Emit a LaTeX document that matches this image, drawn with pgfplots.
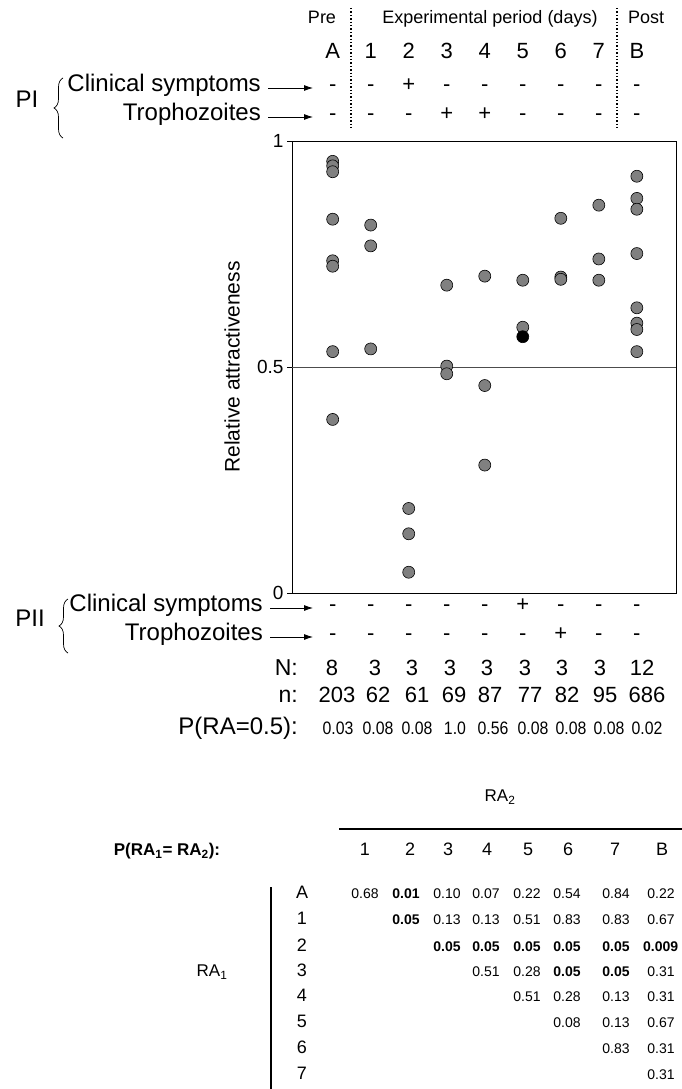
\documentclass[border=0pt]{standalone}
\usepackage{pgfplots}
\pgfplotsset{compat=1.18}
\usepackage{fontspec}
\setmainfont{Liberation Sans}
\newfontfamily\narrowfont[FakeStretch=0.88]{Liberation Sans}
\usetikzlibrary{arrows.meta,decorations.pathreplacing}
\newcommand\fs[1]{\fontsize{#1}{#1}\selectfont}
\definecolor{dotgray}{RGB}{128,128,128}
\tikzset{lab/.style={inner sep=0pt, text height=0.716em, text depth=0pt, anchor=center}}
\begin{document}
\begin{tikzpicture}
\useasboundingbox (0,0) rectangle (682pt,-1089pt);
\begin{axis}[at={(292pt,-593pt)}, anchor=south west, scale only axis,
  width=384pt, height=452pt, xmin=-1.07, xmax=9.03, ymin=0, ymax=1,
  xtick=\empty, ytick={0,0.5,1}, yticklabels={0,0.5,1}, ytick pos=left,
  tick align=outside, major tick length=5pt,
  axis line style={line width=0.9pt},
  tick style={line width=0.9pt, black},
  yticklabel style={font=\fs{19}},
  ylabel={Relative attractiveness},
  ylabel style={font=\fs{21}, at={(axis description cs:-0.156,0.5)}, anchor=center},
  clip=false]
\addplot[no marks, draw=black!70, line width=0.8pt] coordinates {(-1.07,0.5) (9.03,0.5)};
\addplot[only marks, mark=*, mark size=6pt, mark options={fill=dotgray, draw=black, line width=0.6pt}] table {
x y
0 0.955
0 0.945
0 0.932
0 0.827
0 0.735
0 0.723
0 0.534
0 0.384
1 0.814
1 0.768
1 0.540
2 0.187
2 0.131
2 0.046
3 0.681
3 0.502
3 0.485
4 0.701
4 0.459
4 0.283
5 0.692
5 0.588
6 0.829
6 0.699
6 0.694
7 0.858
7 0.739
7 0.692
8 0.922
8 0.873
8 0.849
8 0.751
8 0.631
8 0.597
8 0.583
8 0.534
};
\addplot[only marks, mark=*, mark size=6pt, mark options={fill=black, draw=black, line width=0.6pt}] coordinates {(5,0.567)};
\end{axis}
\begin{scope}[x=1pt,y=-1pt]
% header
\node[lab, font=\fs{18}] at (322,20) {Pre};
\node[lab, font=\fs{18}] at (490,20) {Experimental period (days)};
\node[lab, font=\fs{18}] at (646,20) {Post};
\draw[dotted, line width=1.4pt] (351,8) -- (351,128);
\draw[dotted, line width=1.4pt] (617,8) -- (617,128);
\foreach \l [count=\i from 0] in {A,1,2,3,4,5,6,7,B}
  \node[lab, font=\fs{22}] at ({332.7+38.02*\i},55) {\l};
\foreach \l [count=\i from 0] in {-,-,+,-,-,-,-,-,-}
  \node[lab, font=\fs{22}] at ({332.7+38.02*\i},88) {\l};
\foreach \l [count=\i from 0] in {-,-,-,+,+,-,-,-,-}
  \node[lab, font=\fs{22}] at ({332.7+38.02*\i},117) {\l};
% PI
\node[lab, anchor=east, font=\fs{24}] at (261,88) {Clinical symptoms};
\node[lab, anchor=east, font=\fs{24}] at (261,117) {Trophozoites};
\draw[-{Latex[length=9pt,width=6pt]}, line width=0.8pt] (268,88) -- (313,88);
\draw[-{Latex[length=9pt,width=6pt]}, line width=0.8pt] (268,117) -- (313,117);
\node[lab, font=\fs{24}] at (27,104) {PI};
\draw[decorate, decoration={brace, amplitude=9pt}, line width=0.7pt] (63,138) -- (63,78);
% PII
\foreach \l [count=\i from 0] in {-,-,-,-,-,+,-,-,-}
  \node[lab, font=\fs{22}] at ({332.7+38.02*\i},608) {\l};
\foreach \l [count=\i from 0] in {-,-,-,-,-,-,+,-,-}
  \node[lab, font=\fs{22}] at ({332.7+38.02*\i},637) {\l};
\node[lab, anchor=east, font=\fs{24}] at (263,608) {Clinical symptoms};
\node[lab, anchor=east, font=\fs{24}] at (263,637) {Trophozoites};
\draw[-{Latex[length=9pt,width=6pt]}, line width=0.8pt] (270,608) -- (313,608);
\draw[-{Latex[length=9pt,width=6pt]}, line width=0.8pt] (270,637) -- (313,637);
\node[lab, font=\fs{24}] at (30,623) {PII};
\draw[decorate, decoration={brace, amplitude=9pt}, line width=0.7pt] (68,653) -- (68,599);
% N, n, P rows
\node[lab, anchor=east, font=\fs{23}] at (298,672) {N:};
\node[lab, anchor=east, font=\fs{23}] at (298,699) {n:};
\node[lab, anchor=east, font=\fs{24}] at (298,731) {P(RA=0.5):};
\foreach \x/\l in {332/8,375/3,412/3,450/3,487/3,525/3,562/3,600/3,642/12}
  \node[lab, font=\fs{22}] at (\x,672) {\l};
\foreach \x/\l in {337/203,378/62,417/61,454/69,490/87,530/77,567/82,605/95,647/686}
  \node[lab, font=\fs{22}] at (\x,699) {\l};
\foreach \x/\l in {338/0.03,378/0.08,417/0.08,455/1.0,493/0.56,533/0.08,571/0.08,609/0.08,647/0.02}
  \node[lab, font=\narrowfont\fs{18}] at (\x,731) {\l};
% table
\node[lab, font=\fs{17}] at (500,798) {RA\textsubscript{2}};
\draw[line width=1.3pt] (339,829) -- (690,829);
\node[lab, font=\bfseries\fs{17}] at (167,852) {P(RA\textsubscript{1}= RA\textsubscript{2}):};
\foreach \x/\l in {365/1,410/2,448/3,487/4,528/5,568/6,615/7,662/B}
  \node[lab, font=\fs{18}] at (\x,852) {\l};
\draw[line width=1.3pt] (271,887) -- (271,1092);
\node[lab, font=\fs{17}] at (212,973) {RA\textsubscript{1}};
\foreach \y/\l in {895/A,921/1,948/2,973/3,998/4,1024/5,1050/6,1076/7}
  \node[lab, font=\fs{18}] at (302,\y) {\l};
% row A
\foreach \x/\l in {365/0.68,406/\textbf{0.01},447/0.10,486/0.07,527/0.22,567/0.54,616/0.84,661/0.22}
  \node[lab, font=\fs{14}] at (\x,895) {\l};
% row 1
\foreach \x/\l in {406/\textbf{0.05},447/0.13,486/0.13,527/0.51,567/0.83,616/0.83,661/0.67}
  \node[lab, font=\fs{14}] at (\x,921) {\l};
% row 2
\foreach \x/\l in {447/0.05,486/0.05,527/0.05,567/0.05,616/0.05}
  \node[lab, font=\bfseries\fs{14}] at (\x,948) {\l};
\node[lab, anchor=west, font=\bfseries\fs{14}] at (643,948) {0.009};
% row 3
\foreach \x/\l in {486/0.51,527/0.28,567/\textbf{0.05},616/\textbf{0.05},661/0.31}
  \node[lab, font=\fs{14}] at (\x,973) {\l};
% row 4
\foreach \x/\l in {527/0.51,567/0.28,616/0.13,661/0.31}
  \node[lab, font=\fs{14}] at (\x,998) {\l};
% row 5
\foreach \x/\l in {567/0.08,616/0.13,661/0.67}
  \node[lab, font=\fs{14}] at (\x,1024) {\l};
% row 6
\foreach \x/\l in {616/0.83,661/0.31}
  \node[lab, font=\fs{14}] at (\x,1050) {\l};
% row 7
\node[lab, font=\fs{14}] at (661,1076) {0.31};
\end{scope}
\end{tikzpicture}
\end{document}
